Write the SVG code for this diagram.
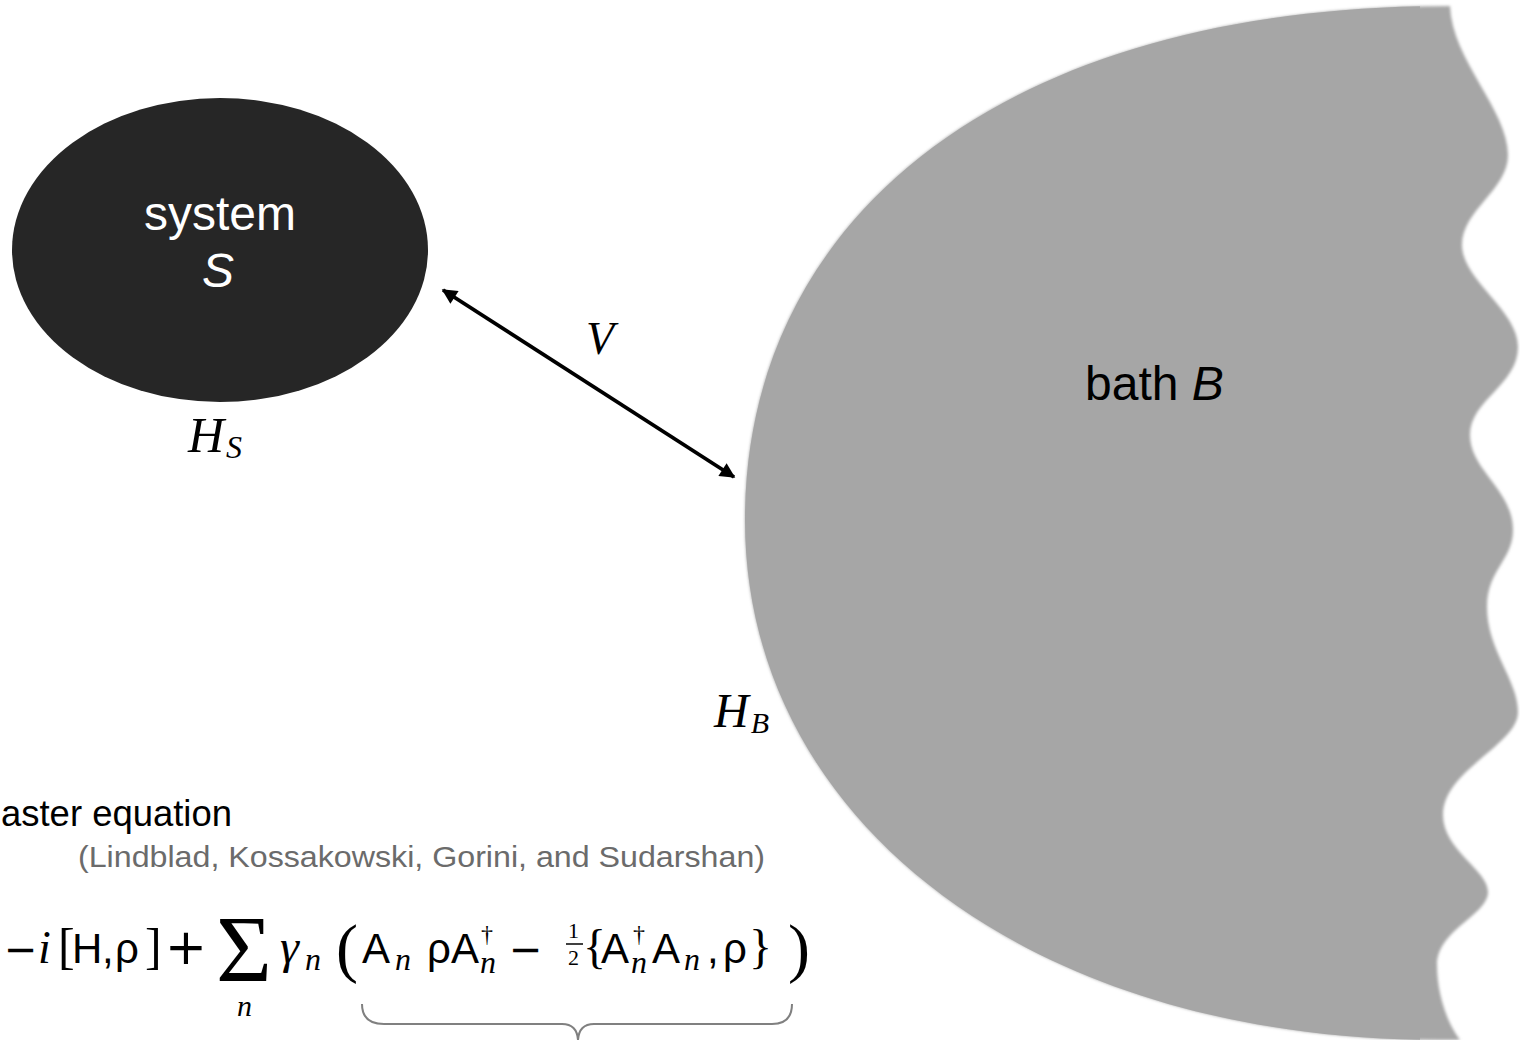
<svg xmlns="http://www.w3.org/2000/svg" width="1520" height="1040" viewBox="0 0 1520 1040">
<style>
.sans{font-family:"Liberation Sans",Arial,sans-serif}
.serif{font-family:"Liberation Serif","Times New Roman",serif}
.it{font-style:italic}
.dv{font-family:"DejaVu Sans",sans-serif}
.m{font-family:"Liberation Sans",Arial,sans-serif;font-size:42px;fill:#000}
.mi{font-family:"Liberation Serif","Times New Roman",serif;font-style:italic;fill:#000}
.sub{font-family:"Liberation Serif","Times New Roman",serif;font-style:italic;font-size:32px}
</style>
<defs>
<marker id="ah" viewBox="0 0 10 10" refX="9" refY="5" markerWidth="5" markerHeight="4" orient="auto-start-reverse" markerUnits="strokeWidth">
<path d="M0,0 L10,5 L0,10 Z" fill="#000"/>
</marker>
<path id="bathShape" d="M1450,6 C1000,6 745,220 745,520 C745,820 1030,1040 1440,1040 L1460,1040 C1445,1020 1437,990 1437,965 C1437,930 1488,915 1488,892 C1488,870 1443,850 1443,815 C1443,770 1518,745 1518,712 C1518,680 1487,650 1487,607 C1487,570 1513,560 1513,530 C1513,490 1470,470 1470,435 C1470,400 1518,385 1518,347 C1518,310 1462,280 1462,245 C1462,210 1508,190 1508,155 C1508,110 1452,60 1450,6 Z"/>
<filter id="soft" x="-5%" y="-5%" width="110%" height="110%">
<feGaussianBlur stdDeviation="1.8"/>
</filter>
<clipPath id="leftPart"><rect x="0" y="0" width="1420" height="1040"/></clipPath>
</defs>
<rect width="1520" height="1040" fill="#fff"/>

<g id="bath">
<use href="#bathShape" fill="#a6a6a6" filter="url(#soft)"/>
<use href="#bathShape" fill="#a6a6a6" clip-path="url(#leftPart)"/>
<text class="sans" x="1085" y="400" font-size="48" fill="#000">bath <tspan class="it">B</tspan></text>
</g>

<g id="system">
<ellipse cx="220" cy="250" rx="208" ry="152" fill="#262626"/>
<text class="sans" x="220" y="230" font-size="48" fill="#fff" text-anchor="middle">system</text>
<text class="sans it" x="218" y="287" font-size="48" fill="#fff" text-anchor="middle">S</text>
</g>

<g id="connectors">
<line x1="443" y1="290" x2="734" y2="477" stroke="#000" stroke-width="3.8" marker-start="url(#ah)" marker-end="url(#ah)"/>
</g>

<g id="labels">
<text class="serif it" x="586" y="354" font-size="46">V</text>
<text class="serif it" x="188" y="452" font-size="50">H<tspan font-size="32" dx="2" dy="6">S</tspan></text>
<text class="serif it" x="714" y="727" font-size="48">H<tspan font-size="30" dx="2" dy="6">B</tspan></text>
<text class="sans" x="1" y="826" font-size="36" fill="#000" textLength="231" lengthAdjust="spacingAndGlyphs">aster equation</text>
<text class="sans" x="78" y="867" font-size="30" fill="#6b6b6b" textLength="687" lengthAdjust="spacingAndGlyphs">(Lindblad, Kossakowski, Gorini, and Sudarshan)</text>
</g>

<g id="equation">
<text class="dv" x="4" y="963" font-size="40">−</text>
<text class="mi" x="38" y="963" font-size="46">i</text>
<text class="serif" x="58" y="963" font-size="50">[</text>
<text class="m" x="72" y="963">H</text>
<text class="m" x="102" y="963">,</text>
<text class="m" x="115" y="963">ρ</text>
<text class="serif" x="145" y="963" font-size="50">]</text>
<text class="dv" x="165" y="964" font-size="50">+</text>
<text class="serif" x="216" y="982" font-size="96">Σ</text>
<text class="mi" x="237" y="1016" font-size="30">n</text>
<text class="mi" x="280" y="963" font-size="48">γ</text>
<text class="sub" x="305" y="970">n</text>
<text class="serif" x="336" y="970" font-size="66">(</text>
<text class="m" x="362" y="963">A</text>
<text class="sub" x="395" y="970">n</text>
<text class="m" x="427" y="963">ρ</text>
<text class="m" x="451" y="963">A</text>
<text class="serif" x="481" y="942" font-size="24">†</text>
<text class="sub" x="480" y="973">n</text>
<text class="dv" x="509" y="963" font-size="40">−</text>
<text class="serif" x="568" y="938" font-size="22">1</text>
<line x1="566" y1="944" x2="583" y2="944" stroke="#000" stroke-width="1.5"/>
<text class="serif" x="568" y="965" font-size="22">2</text>
<text class="serif" x="583" y="963" font-size="48">{</text>
<text class="m" x="601" y="963">A</text>
<text class="serif" x="633" y="942" font-size="24">†</text>
<text class="sub" x="631" y="973">n</text>
<text class="m" x="652" y="963">A</text>
<text class="sub" x="684" y="970">n</text>
<text class="m" x="707" y="963">,</text>
<text class="m" x="723" y="963">ρ</text>
<text class="serif" x="749" y="963" font-size="48">}</text>
<text class="serif" x="788" y="970" font-size="66">)</text>
<path d="M362,1004 Q362,1024 384,1024 L562,1024 Q577,1024 578,1040 Q579,1024 594,1024 L772,1024 Q792,1024 792,1004" fill="none" stroke="#808080" stroke-width="2"/>
</g>
</svg>
